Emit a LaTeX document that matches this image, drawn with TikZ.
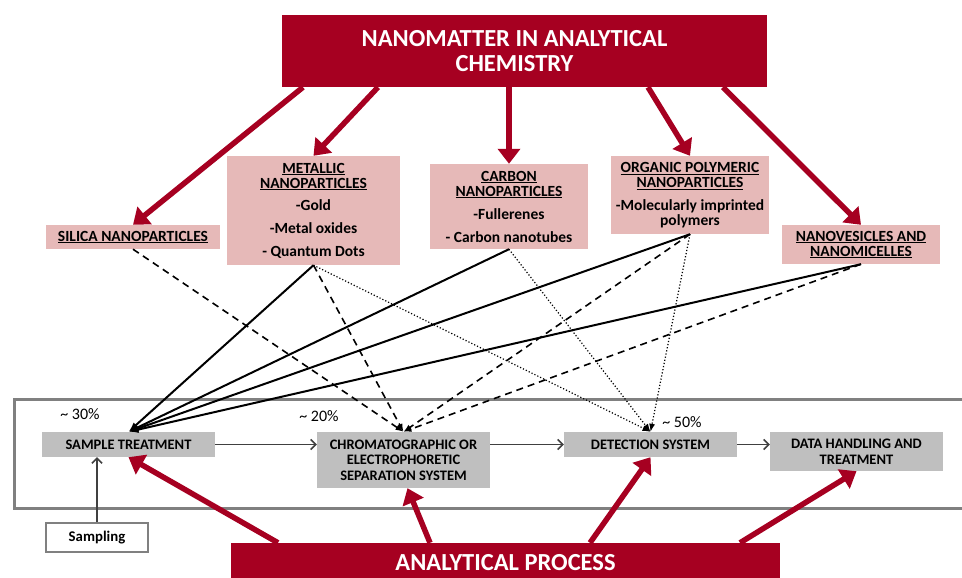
\documentclass[tikz,border=0pt]{standalone}
\usepackage{fontspec}
\setmainfont{Carlito}
\usetikzlibrary{arrows.meta,calc}
\definecolor{nanored}{RGB}{166,0,33}
\definecolor{nanopink}{RGB}{230,185,184}
\definecolor{stagegray}{RGB}{191,191,191}
\definecolor{framegray}{RGB}{128,128,128}
\definecolor{flowgray}{RGB}{64,64,64}
\begin{document}
\begin{tikzpicture}[x=1pt,y=-1pt,
  redbox/.style={fill=nanored, text=white, inner sep=0pt, align=center,
    font=\fontsize{24.5}{25}\selectfont\bfseries},
  pinkbox/.style={fill=nanopink, inner sep=0pt, align=center,
    font=\fontsize{15.5}{15}\selectfont\bfseries},
  stagebox/.style={fill=stagegray, inner sep=0pt, align=center,
    font=\fontsize{14.5}{15.5}\selectfont\bfseries},
  pct/.style={inner sep=0pt, font=\fontsize{16}{18}\selectfont},
  redarrow/.style={draw=nanored, line width=5.5pt, -{Triangle[length=15pt,width=22pt]}},
  flow/.style={draw=flowgray, line width=1.5pt, -{Straight Barb[length=5pt,width=10pt,line width=1.5pt]}},
  solidlink/.style={draw=black, line width=2pt, -{Latex[length=10pt,width=7pt]}},
  dashlink/.style={draw=black, line width=1.6pt, dash pattern=on 7pt off 5pt, -{Latex[length=8pt,width=6pt]}},
  dotlink/.style={draw=black, line width=1.2pt, dash pattern=on 1.2pt off 2pt, -{Latex[length=8pt,width=6pt]}}
]
\useasboundingbox (0,0) rectangle (962,578);

% frame around the analytical process steps
\node[draw=framegray, line width=3pt, minimum width=961pt, minimum height=109pt, inner sep=0pt]
  (frame) at (494.5,453.5) {};

% top heading and nanomaterial families
\node[redbox, minimum width=485pt, minimum height=72pt] (title) at (524.5,51)
  {NANOMATTER IN ANALYTICAL\hspace*{20pt}\\CHEMISTRY\hspace*{20pt}};

\node[pinkbox, minimum width=174pt, minimum height=24pt] (silica) at (133,237)
  {\underline{SILICA NANOPARTICLES}};
\node[pinkbox, minimum width=173pt, minimum height=109pt] (metal) at (313.5,210.5)
  {\underline{METALLIC}\\\underline{NANOPARTICLES}\\[7pt]-Gold\\[8pt]-Metal oxides\\[8pt]- Quantum Dots};
\node[pinkbox, minimum width=158pt, minimum height=85pt] (carbon) at (509,206.5)
  {\underline{CARBON}\\\underline{NANOPARTICLES}\\[8pt]-Fullerenes\\[8pt]- Carbon nanotubes};
\node[pinkbox, minimum width=158pt, minimum height=78pt] (organic) at (690,195)
  {\underline{ORGANIC POLYMERIC}\\\underline{NANOPARTICLES}\\[8pt]-Molecularly imprinted\\polymers};
\node[pinkbox, minimum width=158pt, minimum height=39pt] (vesicle) at (861,244.5)
  {\underline{NANOVESICLES AND}\\\underline{NANOMICELLES}};

% analytical process steps
\node[stagebox, minimum width=173pt, minimum height=25pt] (sample) at (128.5,444.5)
  {SAMPLE TREATMENT};
\node[stagebox, minimum width=173pt, minimum height=56pt] (chrom) at (403.5,460)
  {CHROMATOGRAPHIC OR\\ELECTROPHORETIC\\SEPARATION SYSTEM};
\node[stagebox, minimum width=173pt, minimum height=25pt] (detect) at (650.5,444.5)
  {DETECTION SYSTEM};
\node[stagebox, minimum width=173pt, minimum height=39pt] (datah) at (856.5,451.5)
  {DATA HANDLING AND\\TREATMENT};
\node[draw=framegray, fill=white, line width=1.5pt, minimum width=102pt, minimum height=29pt,
  inner sep=0pt, font=\fontsize{14.8}{16}\selectfont\bfseries] (sampling) at (97,537.5) {Sampling};

\node[pct] (p30) at (80,414) {\textasciitilde{} 30\%};
\node[pct] (p20) at (319,416) {\textasciitilde{} 20\%};
\node[pct] (p50) at (682,422) {\textasciitilde{} 50\%};

% flow through the process
\draw[flow] (sample.east) -- (sample.east -| chrom.west);
\draw[flow] (detect.west -| chrom.east) -- (detect.west);
\draw[flow] (detect.east) -- (detect.east -| datah.west);
\draw[flow] (sampling.north) -- (sampling.north |- sample.south);

% nanomaterials used in sample treatment
\draw[solidlink] (metal.south) -- (sample.north);
\draw[solidlink] (carbon.south) -- (sample.north);
\draw[solidlink] (organic.south) -- (sample.north);
\draw[solidlink] (vesicle.south) -- (sample.north);

% nanomaterials used in separation
\draw[dashlink] (silica.south) -- (chrom.north);
\draw[dashlink] (metal.south) -- (chrom.north);
\draw[dashlink] (organic.south) -- (chrom.north);
\draw[dashlink] (vesicle.south) -- (chrom.north);

% nanomaterials used in detection
\draw[dotlink] (metal.south) -- (detect.north);
\draw[dotlink] (carbon.south) -- (detect.north);
\draw[dotlink] (organic.south) -- (detect.north);

% heading to families
\draw[redarrow] ([xshift=-221.5pt]title.south) -- (silica.north);
\draw[redarrow] ([xshift=-146.5pt]title.south) -- (metal.north);
\draw[redarrow] (title.south -| carbon.north) -- (carbon.north);
\draw[redarrow] ([xshift=123.5pt]title.south) -- (organic.north);
\draw[redarrow] ([xshift=198.5pt]title.south) -- (vesicle.north);

% analytical process to its steps
\node[redbox, minimum width=549pt, minimum height=40pt] (process) at (505.5,563)
  {ANALYTICAL PROCESS};
\draw[redarrow] ([xshift=-227.5pt]process.north) -- (sample.south);
\draw[redarrow] ([xshift=-75.5pt]process.north) -- ([xshift=4pt]chrom.south);
\draw[redarrow] ([xshift=84.5pt]process.north) -- (detect.south);
\draw[redarrow] ([xshift=234.5pt]process.north) -- (datah.south);
\end{tikzpicture}
\end{document}
